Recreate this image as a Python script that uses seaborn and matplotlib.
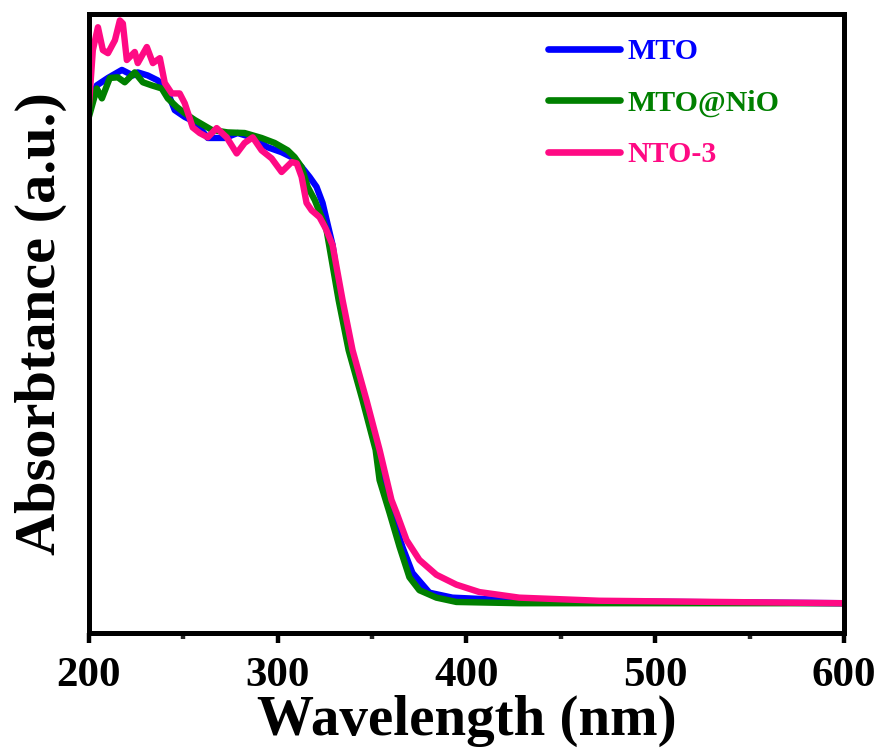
import numpy as np
import pandas as pd
import matplotlib
matplotlib.use("Agg")
import matplotlib.pyplot as plt
import seaborn as sns
from matplotlib.ticker import MultipleLocator

# ---- data ----
wl_mto = [200, 204.2, 210.1, 217.5, 223.3, 225.9, 231.2, 236.5, 241.3, 245.5, 250.8,
          256.1, 263.0, 272.0, 278.8, 286.2, 294.7, 302.1, 307.4, 312.7, 316.9,
          320.6, 323.8, 329.1, 333.3, 338.6, 346.0, 352.9, 360.3, 366.1, 371.4,
          380.4, 392.6, 428.0, 600]
ab_mto = [0.853, 0.885, 0.897, 0.910, 0.901, 0.906, 0.901, 0.893, 0.877, 0.845, 0.834,
          0.826, 0.800, 0.800, 0.808, 0.801, 0.785, 0.777, 0.769, 0.753, 0.737,
          0.721, 0.695, 0.627, 0.538, 0.457, 0.376, 0.296, 0.194, 0.139, 0.097,
          0.065, 0.057, 0.052, 0.048]

wl_nio = [200, 204.2, 206.9, 211.1, 215.3, 219.0, 224.3, 228.6, 233.3, 238.6, 241.8,
          246.6, 250.8, 256.1, 265.1, 273.5, 282.5, 291.5, 298.4, 305.3, 309.0,
          312.7, 315.9, 319.6, 323.3, 325.9, 332.3, 337.6, 345.0, 351.9, 354.0,
          359.3, 364.6, 369.8, 375.1, 384.1, 394.7, 428.0, 600]
ab_nio = [0.834, 0.880, 0.864, 0.897, 0.898, 0.890, 0.906, 0.890, 0.885, 0.880, 0.864,
          0.850, 0.840, 0.829, 0.813, 0.809, 0.808, 0.800, 0.792, 0.780, 0.769,
          0.753, 0.721, 0.700, 0.672, 0.651, 0.538, 0.457, 0.376, 0.296, 0.247,
          0.194, 0.139, 0.090, 0.069, 0.057, 0.050, 0.048, 0.048]

wl_nto = [200, 202.1, 204.8, 207.4, 210.1, 213.8, 216.4, 218.0, 220.1, 224.3, 225.9,
          230.7, 233.9, 237.6, 240.2, 243.9, 248.1, 250.8, 255.0, 258.7, 263.0,
          267.7, 273.0, 278.3, 282.5, 286.8, 291.5, 296.8, 302.1, 307.4, 310.1,
          312.7, 315.3, 318.0, 322.2, 325.4, 329.1, 334.4, 339.7, 347.1, 354.0,
          360.3, 363.0, 368.3, 375.1, 384.1, 394.7, 406.9, 428.0, 470.4, 600]
ab_nto = [0.850, 0.942, 0.979, 0.942, 0.937, 0.958, 0.990, 0.985, 0.926, 0.939, 0.921,
          0.947, 0.921, 0.929, 0.889, 0.872, 0.872, 0.856, 0.817, 0.808, 0.801,
          0.816, 0.801, 0.775, 0.792, 0.801, 0.780, 0.767, 0.745, 0.761, 0.759,
          0.737, 0.695, 0.683, 0.672, 0.654, 0.627, 0.538, 0.457, 0.376, 0.296,
          0.215, 0.194, 0.150, 0.118, 0.094, 0.078, 0.066, 0.057, 0.052, 0.048]

labels = ["MTO", "MTO@NiO", "NTO-3"]
colors = ["#0000FF", "#008000", "#FF0A84"]
x_ticks = [200, 300, 400, 500, 600]

sns.set_theme(style="white")
plt.rcParams["font.family"] = ["Liberation Serif", "DejaVu Serif"]
plt.rcParams["font.weight"] = "bold"

fig = plt.figure(figsize=(8.8, 7.49), dpi=100)
ax = fig.add_axes([0.101, 0.155, 0.858, 0.826])

series = [(wl_mto, ab_mto), (wl_nio, ab_nio), (wl_nto, ab_nto)]
for (wx, wy), lab, col in zip(series, labels, colors):
    df = pd.DataFrame({"Wavelength": wx, "Absorbance": wy})
    sns.lineplot(data=df, x="Wavelength", y="Absorbance", ax=ax, color=col,
                 label=lab, linewidth=4.6, sort=True)

ax.set_xlim(200, 600)
ax.set_ylim(0, 1.0)
ax.set_xticks(x_ticks)
ax.set_xticklabels([str(t) for t in x_ticks])
ax.xaxis.set_minor_locator(MultipleLocator(50))
ax.set_yticks([])

for s in ax.spines.values():
    s.set_visible(True)
    s.set_linewidth(3.6)
    s.set_color("black")

ax.tick_params(axis="x", which="major", direction="out", length=7, width=3.2,
               labelsize=31, pad=10, bottom=True, top=False, colors="black")
ax.tick_params(axis="x", which="minor", direction="out", length=4.5, width=3.2,
               bottom=True, top=False)
for t in ax.get_xticklabels():
    t.set_fontweight("bold")

ax.set_xlabel("Wavelength (nm)", fontsize=41, fontweight="bold", labelpad=0, color="black")
ax.set_ylabel("Absorbtance (a.u.)", fontsize=42, fontweight="bold", labelpad=16, color="black")

leg = ax.legend(loc="upper right", frameon=False, fontsize=21.5, handlelength=2.4,
                handletextpad=0.25, labelspacing=0.82, borderaxespad=0.4,
                bbox_to_anchor=(0.946, 1.0))
for txt, col in zip(leg.get_texts(), colors):
    txt.set_color(col)
    txt.set_fontweight("bold")
for line in leg.get_lines():
    line.set_linewidth(4.8)

fig.savefig("out.png", dpi=100)
